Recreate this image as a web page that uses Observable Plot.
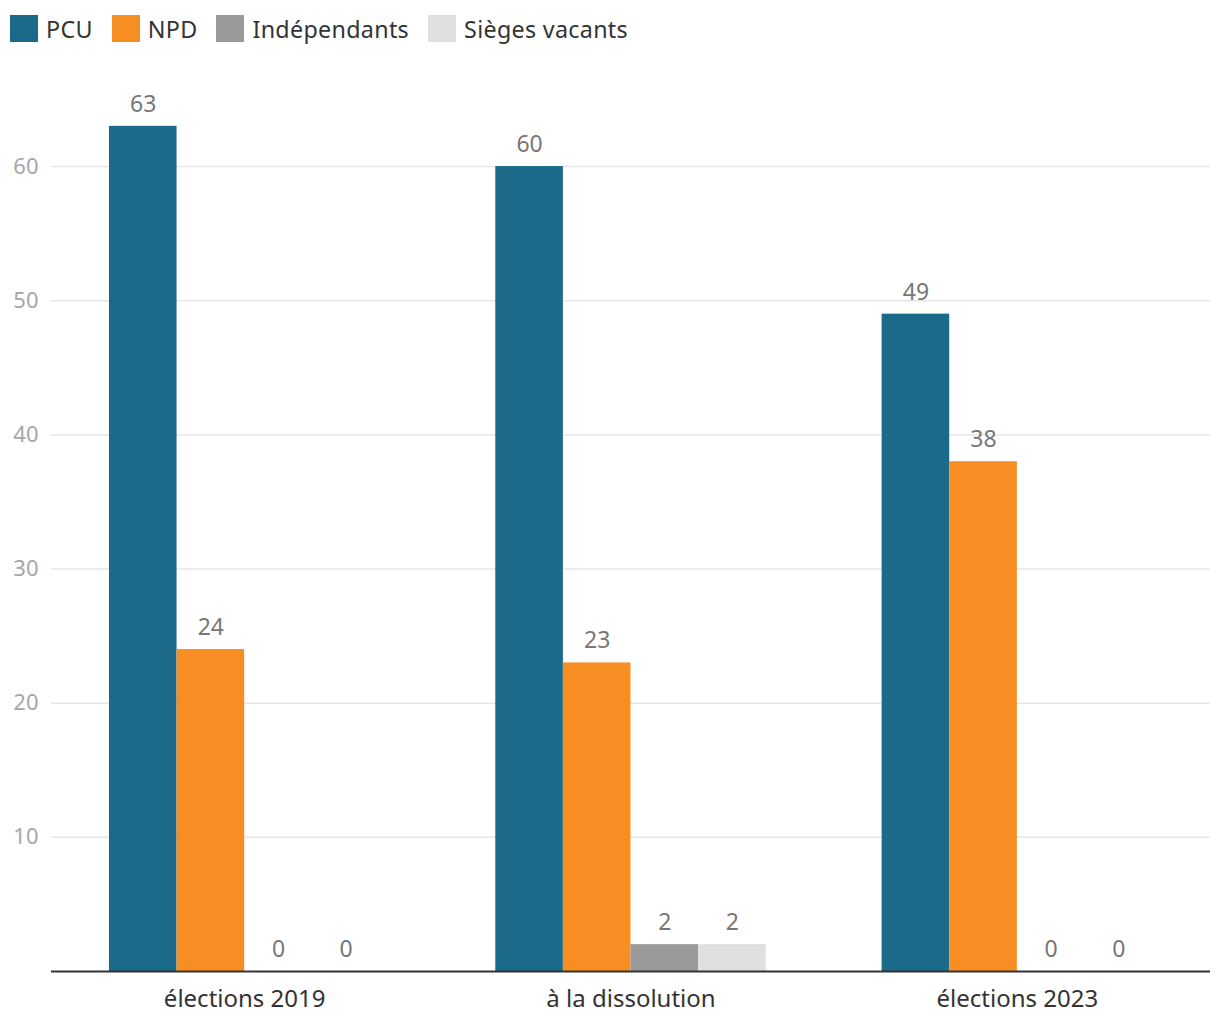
<!DOCTYPE html>
<html>
<head>
<meta charset="utf-8">
<script src="https://cdn.jsdelivr.net/npm/d3@7"></script>
<script src="https://cdn.jsdelivr.net/npm/@observablehq/plot@0.6"></script>
<style>
  html, body { margin: 0; padding: 0; background: #fff; }
  body { width: 1220px; height: 1020px; overflow: hidden; font-family: "Noto Sans", sans-serif; }
  #legend { height: 60px; box-sizing: border-box; padding: 0 0 0 10px; position: relative; }
  #legend .row { position: absolute; top: 15px; left: 10px; display: flex; align-items: center; }
  #legend .item { display: flex; align-items: center; margin-right: 19px; height: 27px; }
  #legend .sw { width: 28px; height: 27px; margin-right: 8px; }
  #legend .lb { font-size: 23.3px; color: #333; letter-spacing: 0.3px; }
</style>
</head>
<body>
<div id="legend"><div class="row" id="legendrow"></div></div>
<div id="chart"></div>
<script>
const groups = ["élections 2019", "à la dissolution", "élections 2023"];
const series = ["PCU", "NPD", "Indépendants", "Sièges vacants"];
const pcu = [63, 60, 49];
const npd = [24, 23, 38];
const independants = [0, 2, 0];
const vacants = [0, 2, 0];
const colors = ["#1b6a89", "#f78e23", "#999999", "#e0e0e0"];
const yTicks = [10, 20, 30, 40, 50, 60];

const values = [pcu, npd, independants, vacants];
const table = [];
groups.forEach((g, gi) => {
  series.forEach((s, si) => {
    table.push({group: g, gi, series: s, si, value: values[si][gi]});
  });
});

// legend
const legend = document.getElementById("legendrow");
series.forEach((s, i) => {
  const item = document.createElement("div");
  item.className = "item";
  const sw = document.createElement("div");
  sw.className = "sw";
  sw.style.background = colors[i];
  const lb = document.createElement("span");
  lb.className = "lb";
  lb.textContent = s;
  item.appendChild(sw);
  item.appendChild(lb);
  legend.appendChild(item);
});

const bw = 0.175;
const off = -2 * bw;

const chart = Plot.plot({
  width: 1220,
  height: 960,
  marginLeft: 51,
  marginRight: 10,
  marginTop: 39,
  marginBottom: 49,
  style: {fontFamily: "Noto Sans, sans-serif", background: "#fff"},
  x: {type: "linear", domain: [-0.5, 2.5]},
  y: {domain: [0, 65]},
  color: {domain: series, range: colors},
  marks: [
    Plot.gridY(yTicks, {stroke: "#e6e6e6", strokeOpacity: 1, strokeWidth: 1.5}),
    Plot.axisY({ticks: yTicks, tickSize: 0, tickPadding: 13, fontSize: 22, color: "#a6a6a6", label: null}),
    Plot.axisX({ticks: [0, 1, 2], tickFormat: i => groups[i], tickSize: 0, tickPadding: 18, fontSize: 24, color: "#333", label: null}),
    Plot.rectY(table, {
      x1: d => d.gi + off + d.si * bw,
      x2: d => d.gi + off + (d.si + 1) * bw,
      y: "value",
      fill: "series"
    }),
    Plot.text(table, {
      x: d => d.gi + off + (d.si + 0.5) * bw,
      y: "value",
      text: d => String(d.value),
      dy: -22,
      fontSize: 23,
      fill: "#777"
    }),
    Plot.ruleY([0], {stroke: "#333", strokeWidth: 2})
  ]
});
document.getElementById("chart").appendChild(chart);
</script>
</body>
</html>
